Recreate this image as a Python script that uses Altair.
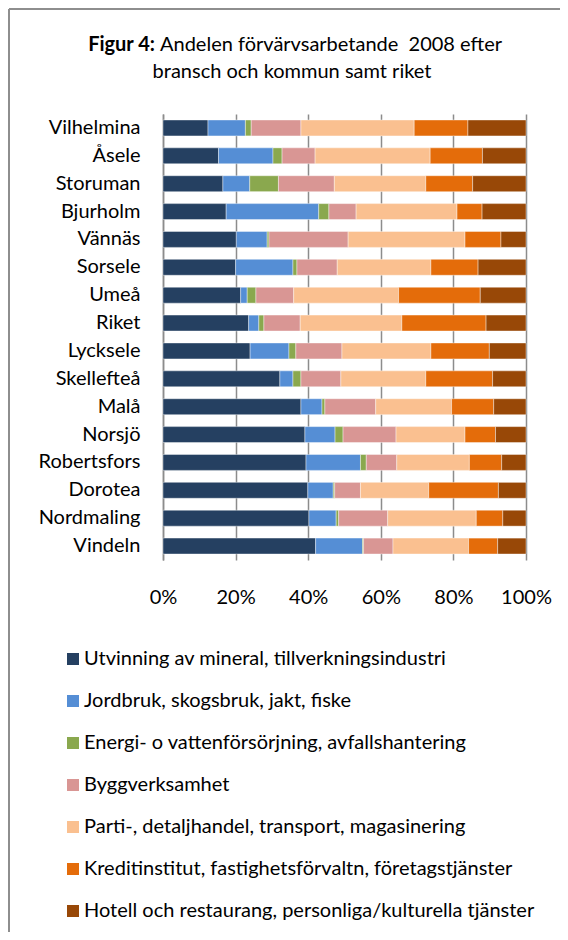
import altair as alt
import pandas as pd

kommuner = ["Vilhelmina", "Åsele", "Storuman", "Bjurholm", "Vännäs", "Sorsele",
            "Umeå", "Riket", "Lycksele", "Skellefteå", "Malå", "Norsjö",
            "Robertsfors", "Dorotea", "Nordmaling", "Vindeln"]

branscher = [
    "Utvinning av mineral, tillverkningsindustri",
    "Jordbruk, skogsbruk, jakt, fiske",
    "Energi- o vattenförsörjning, avfallshantering",
    "Byggverksamhet",
    "Parti-, detaljhandel, transport, magasinering",
    "Kreditinstitut, fastighetsförvaltn, företagstjänster",
    "Hotell och restaurang, personliga/kulturella tjänster",
]

utvinning = [12.4, 15.3, 16.5, 17.4, 20.2, 20.0, 21.4, 23.6, 24.0, 32.2, 38.0, 39.1, 39.4, 39.9, 40.2, 42.0]
jordbruk = [10.3, 15.0, 7.4, 25.5, 8.5, 15.8, 1.8, 2.8, 10.7, 3.6, 5.8, 8.3, 15.0, 7.0, 7.5, 12.9]
energi = [1.6, 2.5, 7.9, 2.8, 0.5, 1.1, 2.4, 1.4, 1.9, 2.2, 0.8, 2.2, 1.6, 0.4, 0.7, 0.3]
bygg = [13.7, 9.1, 15.4, 7.5, 21.8, 11.1, 10.4, 10.0, 12.7, 11.0, 14.0, 14.6, 8.4, 7.1, 13.5, 8.1]
parti = [31.2, 31.7, 25.2, 27.8, 32.2, 25.8, 28.9, 28.0, 24.5, 23.4, 20.9, 19.0, 20.0, 18.8, 24.4, 20.8]
kredit = [14.8, 14.4, 12.9, 6.9, 9.9, 13.0, 22.5, 23.2, 16.1, 18.4, 11.6, 8.4, 8.9, 19.2, 7.3, 8.0]
hotell = [16.0, 12.0, 14.7, 12.1, 6.9, 13.2, 12.6, 11.0, 10.1, 9.2, 8.9, 8.4, 6.7, 7.6, 6.4, 7.8]

farger = ["#254061", "#558ED5", "#8AA84E", "#D99694", "#FAC090", "#E46C0A", "#984807"]

serier = [utvinning, jordbruk, energi, bygg, parti, kredit, hotell]
rows = []
for i, (namn, vals) in enumerate(zip(branscher, serier)):
    for k, v in zip(kommuner, vals):
        rows.append({"kommun": k, "bransch": namn, "andel": v, "ordning": i})
df = pd.DataFrame(rows)

FONT = "Lato"
FS = 20

bars = alt.Chart(df).mark_bar(stroke="white", strokeWidth=0.4).encode(
    y=alt.Y("kommun:N", sort=kommuner, title=None,
            scale=alt.Scale(paddingInner=0.43, paddingOuter=0.215),
            axis=alt.Axis(ticks=False, labelPadding=23, labelFontSize=FS,
                          labelFont=FONT, labelColor="#000000",
                          domainColor="#8c8c8c", domainWidth=1.5, grid=False)),
    x=alt.X("andel:Q", stack="normalize", title=None,
            scale=alt.Scale(domain=[0, 1], nice=False),
            axis=alt.Axis(format="%", values=[0, 0.2, 0.4, 0.6, 0.8, 1.0],
                          ticks=False, domain=False, labelPadding=27,
                          labelFlush=False,
                          labelFontSize=FS, labelFont=FONT, labelColor="#000000",
                          grid=True, gridColor="#8c8c8c", gridWidth=1.5)),
    color=alt.Color("bransch:N", sort=branscher,
                    scale=alt.Scale(domain=branscher, range=farger),
                    legend=alt.Legend(orient="none", legendX=-100, legendY=535,
                                      direction="vertical", title=None,
                                      symbolType="square", symbolSize=144,
                                      symbolStrokeWidth=0, labelFontSize=FS,
                                      labelFont=FONT, labelColor="#000000",
                                      labelLimit=0, rowPadding=22, labelOffset=1)),
    order=alt.Order("ordning:Q", sort="ascending"),
)

one = pd.DataFrame({"a": [0]})

title_bold = alt.Chart(one).mark_text(
    text="Figur 4:", font=FONT, fontSize=FS, fontWeight="bold",
    align="right", baseline="middle", color="#000000"
).encode(x=alt.value(-8), y=alt.value(-69))

title_rest = alt.Chart(one).mark_text(
    text="Andelen förvärvsarbetande\u00a0 2008 efter", font=FONT, fontSize=FS,
    align="left", baseline="middle", color="#000000"
).encode(x=alt.value(-3), y=alt.value(-69))

title_line2 = alt.Chart(one).mark_text(
    text="bransch och kommun samt riket", font=FONT, fontSize=FS,
    align="center", baseline="middle", color="#000000"
).encode(x=alt.value(129), y=alt.value(-42))

frame_top = alt.Chart(one).mark_rule(color="#8e8e8e", strokeWidth=2).encode(
    x=alt.value(-154), x2=alt.value(420), y=alt.value(-105))
frame_left = alt.Chart(one).mark_rule(color="#8e8e8e", strokeWidth=2).encode(
    x=alt.value(-154), y=alt.value(-105), y2=alt.value(830))

chart = alt.layer(bars, title_bold, title_rest, title_line2, frame_top, frame_left).properties(
    width=363, height=446,
    autosize=alt.AutoSizeParams(type="none"),
    padding={"left": 155, "top": 106, "right": 34, "bottom": 372},
    background="white",
).configure_view(stroke=None)

chart.save("out.html", embed_options={"renderer": "svg", "actions": False})
